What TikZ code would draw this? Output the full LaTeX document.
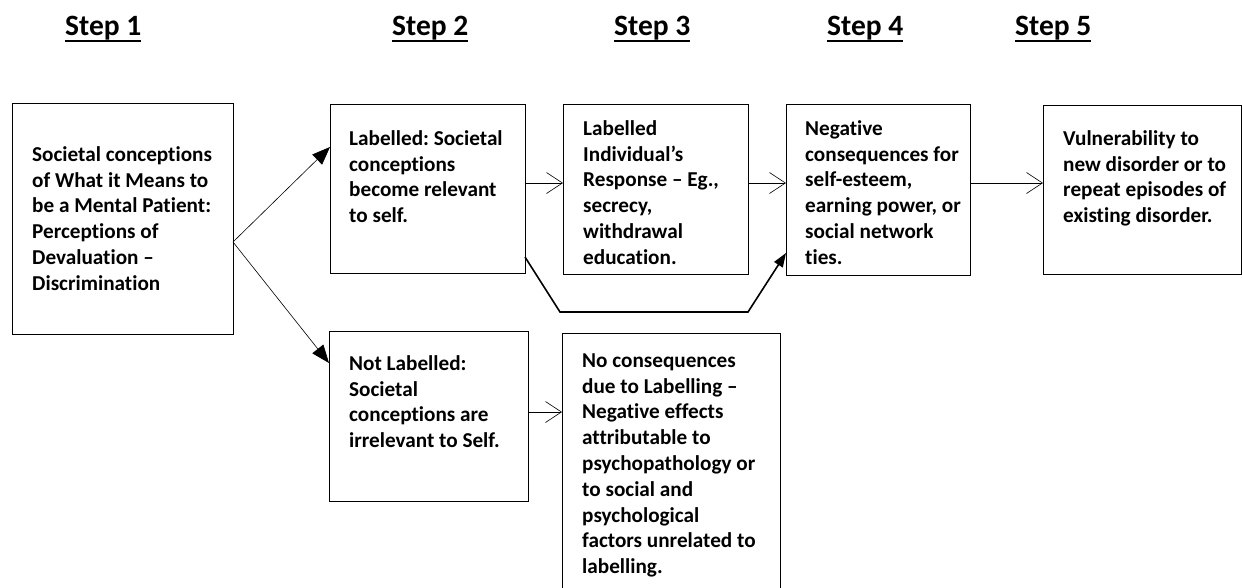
\documentclass[tikz,border=0pt]{standalone}
\usepackage{fontspec}
\setmainfont{Carlito}[Ligatures=NoCommon]
\usetikzlibrary{arrows.meta,calc}
\frenchspacing
\newcommand\myul[1]{\setbox0=\hbox{#1}\rlap{\vrule height -4.5pt depth 6.8pt width \wd0}\box0}
\begin{document}
\begin{tikzpicture}[x=1pt,y=-1pt,
 box/.style={draw, line width=0.9pt, anchor=north west, inner sep=0pt, outer sep=0pt},
 txt/.style={anchor=north west, inner sep=0pt, align=left, font=\fontsize{21.2}{25.8}\selectfont\bfseries\frenchspacing},
 steplbl/.style={anchor=base west, inner sep=0pt, font=\fontsize{29.5}{33}\selectfont\bfseries},
 openarrow/.style={line width=0.6pt, -{Straight Barb[length=16pt,width=21pt]}},
 fillarrow/.style={line width=0.6pt, -{Triangle[length=18pt,width=14pt]}},
 thickarrow/.style={line width=1.6pt, -{Triangle[length=14pt,width=10pt]}}]
\useasboundingbox (0,0) rectangle (1243,587);

% step headers
\node[steplbl] (s1) at (65,35) {\myul{Step 1}};
\node[steplbl] (s2) at (392,35) {\myul{Step 2}};
\node[steplbl] (s3) at (614,35) {\myul{Step 3}};
\node[steplbl] (s4) at (827,35) {\myul{Step 4}};
\node[steplbl] (s5) at (1015,35) {\myul{Step 5}};

% boxes
\node[box, minimum width=221pt, minimum height=231pt] (b1) at (12,103) {};
\node[box, minimum width=195pt, minimum height=169pt] (b2) at (330,104) {};
\node[box, minimum width=185pt, minimum height=170pt] (b3) at (563,104) {};
\node[box, minimum width=184pt, minimum height=171pt] (b4) at (786,104) {};
\node[box, minimum width=198pt, minimum height=169pt] (b5) at (1043,105) {};
\node[box, minimum width=199pt, minimum height=170pt] (b6) at (329,331) {};
\node[box, minimum width=218pt, minimum height=267pt] (b7) at (562,333) {};

% texts
\node[txt] (t1) at (32,143) {\strut Societal conceptions\\of What it Means to\\be a Mental Patient:\\Perceptions of\\Devaluation --\\Discrimination};
\node[txt] (t2) at (349,127) {\strut Labelled: Societal\\conceptions\\become relevant\\to self.};
\node[txt] (t3) at (583,117) {\strut Labelled\\Individual’s\\Response -- Eg.,\\secrecy,\\withdrawal\\education.};
\node[txt] (t4) at (805,117) {\strut Negative\\consequences for\\self-esteem,\\earning power, or\\social network\\ties.};
\node[txt] (t5) at (1063,127) {\strut Vulnerability to\\new disorder or to\\repeat episodes of\\existing disorder.};
\node[txt] (t6) at (349,352) {\strut Not Labelled:\\Societal\\conceptions are\\irrelevant to Self.};
\node[txt] (t7) at (582,349) {\strut No consequences\\due to Labelling --\\Negative effects\\attributable to\\psychopathology or\\to social and\\psychological\\factors unrelated to\\labelling.};

% connectors
\coordinate (fork) at ($(b1.north east)+(0,139)$);
\draw[fillarrow] (fork) -- ($(b2.north west)+(0,43)$);
\draw[fillarrow] (fork) -- ($(b6.north west)+(0,32)$);
\draw[openarrow] ($(b2.north east)+(0,79)$) -- ($(b3.north west)+(0,79)$);
\draw[openarrow] ($(b3.north east)+(0,79)$) -- ($(b4.north west)+(0,79)$);
\draw[openarrow] ($(b4.north east)+(0,79)$) -- ($(b5.north west)+(0,78)$);
\draw[openarrow] ($(b6.north east)+(0,81)$) -- ($(b7.north west)+(0,79)$);
\coordinate (k1) at (560,312);
\coordinate (k2) at (748,312);
\draw[thickarrow] ($(b2.north east)+(0,153)$) -- (k1) -- (k2) -- ($(b4.north west)+(0,149)$);
\end{tikzpicture}
\end{document}
